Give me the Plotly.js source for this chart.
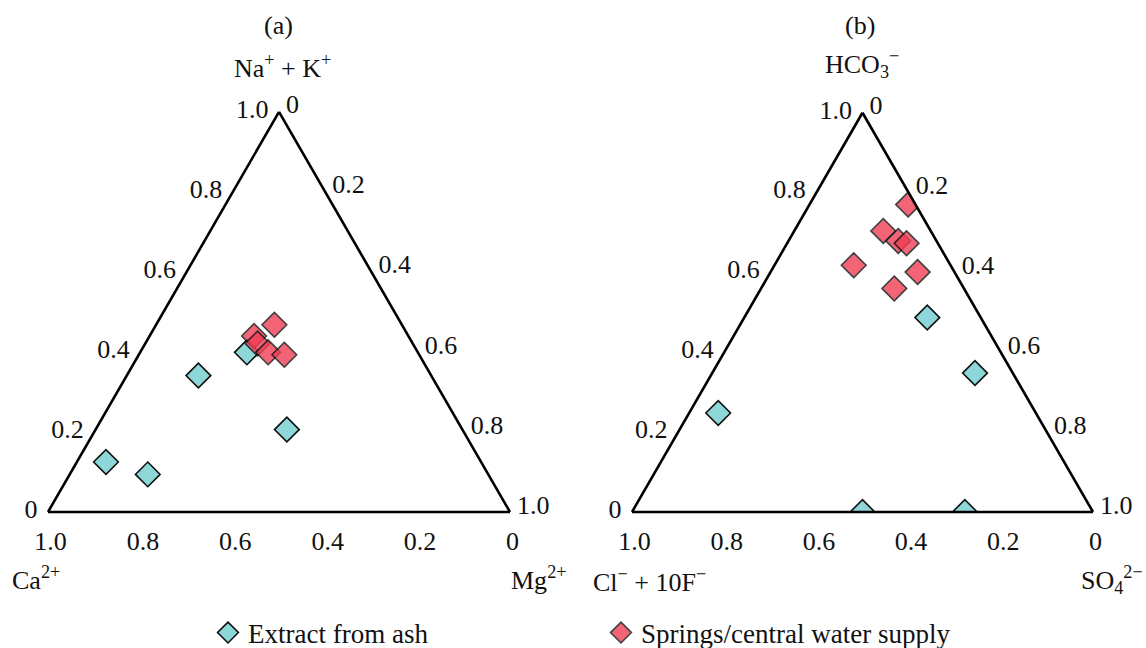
<!DOCTYPE html>
<html><head><meta charset="utf-8">
<script src="https://cdn.plot.ly/plotly-3.0.1.min.js"></script>
<style>html,body{margin:0;padding:0;background:#fff}#chart{width:1146px;height:648px}</style>
</head><body><div id="chart"></div>
<script>
// Panel (a): cations — a = Na+ + K+, b = Ca2+, c = Mg2+
const ashCationNaK = [0.125, 0.094, 0.341, 0.399, 0.206];
const ashCationCa  = [0.812, 0.737, 0.504, 0.370, 0.380];
const ashCationMg  = [0.063, 0.169, 0.155, 0.231, 0.414];
const springCationNaK = [0.468, 0.440, 0.421, 0.399, 0.393];
const springCationCa  = [0.276, 0.334, 0.336, 0.324, 0.292];
const springCationMg  = [0.256, 0.226, 0.243, 0.277, 0.315];
// Panel (b): anions — a = HCO3-, b = Cl- + 10F-, c = SO4 2-
const ashAnionHCO3 = [0.487, 0.348, 0.248, 0.000, 0.000];
const ashAnionClF  = [0.116, 0.082, 0.689, 0.500, 0.278];
const ashAnionSO4  = [0.397, 0.570, 0.063, 0.500, 0.722];
const springAnionHCO3 = [0.770, 0.704, 0.679, 0.673, 0.618, 0.601, 0.560];
const springAnionClF  = [0.016, 0.103, 0.083, 0.068, 0.210, 0.080, 0.151];
const springAnionSO4  = [0.214, 0.193, 0.238, 0.259, 0.172, 0.319, 0.289];
// Tick labels and names
const tickValues = [0, 0.2, 0.4, 0.6, 0.8, 1.0];
const tickLabels = ['0', '0.2', '0.4', '0.6', '0.8', '1.0'];
const seriesNames = ['Extract from ash', 'Springs/central water supply'];
const panelTitles = ['(a)', '(b)'];
const cationNames = ['Na<sup>+</sup> + K<sup>+</sup>', 'Ca<sup>2+</sup>', 'Mg<sup>2+</sup>'];
const anionNames = ['HCO<sub>3</sub><sup>−</sup>', 'Cl<sup>−</sup> + 10F<sup>−</sup>', 'SO<sub>4</sub><sup>2−</sup>'];

const W = 1146, H = 648;
const FONT = 'Liberation Serif, Times New Roman, serif';
const TXT = '#111';
const CYAN = '#8dd7d8', RED = '#f03e55';

function domain(x0, x1, yBottom) {
  const w = x1 - x0, h = w * Math.sqrt(3) / 2;
  return { x: [x0 / W, x1 / W], y: [(H - yBottom) / H, (H - yBottom + h) / H] };
}
function axis(pad) {
  return {
    min: 0, showline: true, linecolor: '#000', linewidth: 2.6, showgrid: false,
    ticks: 'outside', ticklen: pad, tickwidth: 1, tickcolor: 'rgba(0,0,0,0)',
    tickmode: 'array', tickvals: tickValues, ticktext: tickLabels,
    tickfont: { family: FONT, size: 26, color: TXT }, title: { text: '' }
  };
}
function ternary(dom) {
  return { sum: 1, bgcolor: '#fff', domain: dom, aaxis: axis(6), baxis: axis(5), caxis: axis(5) };
}
function marker(color, op) {
  return { symbol: 'diamond', size: 19, color: color, opacity: op, line: { color: '#111', width: 1.6 } };
}
function ann(text, px, py, anchor, size) {
  return { text: text, xref: 'paper', yref: 'paper', x: px / W, y: 1 - py / H,
    xanchor: anchor || 'center', yanchor: 'middle', showarrow: false,
    font: { family: FONT, size: size || 26, color: TXT } };
}

const traces = [
  { type: 'scatterternary', mode: 'markers', subplot: 'ternary', name: seriesNames[0],
    a: ashCationNaK, b: ashCationCa, c: ashCationMg, marker: marker(CYAN, 1), legendgroup: 'ash' },
  { type: 'scatterternary', mode: 'markers', subplot: 'ternary', name: seriesNames[1],
    a: springCationNaK, b: springCationCa, c: springCationMg, marker: marker(RED, 0.8), legendgroup: 'spr' },
  { type: 'scatterternary', mode: 'markers', subplot: 'ternary2', name: seriesNames[0], showlegend: false,
    a: ashAnionHCO3, b: ashAnionClF, c: ashAnionSO4, marker: marker(CYAN, 1), legendgroup: 'ash' },
  { type: 'scatterternary', mode: 'markers', subplot: 'ternary2', name: seriesNames[1], showlegend: false,
    a: springAnionHCO3, b: springAnionClF, c: springAnionSO4, marker: marker(RED, 0.8), legendgroup: 'spr' }
];

const layout = {
  width: W, height: H, margin: { l: 0, r: 0, t: 0, b: 0, autoexpand: false },
  paper_bgcolor: '#fff', plot_bgcolor: '#fff',
  font: { family: FONT, size: 26, color: TXT },
  ternary: ternary(domain(48, 510, 512)),
  ternary2: ternary(domain(632, 1093, 512)),
  showlegend: true,
  legend: { orientation: 'h', x: 208 / W, xanchor: 'left', y: 1 - 633 / H, yanchor: 'middle',
    entrywidth: 348, entrywidthmode: 'pixels', font: { family: FONT, size: 27, color: TXT },
    bgcolor: 'rgba(0,0,0,0)' },
  annotations: [
    ann(panelTitles[0], 278, 26), ann(cationNames[0], 282, 66),
    ann(cationNames[1], 10, 578, 'left'), ann(cationNames[2], 509, 578, 'left'),
    ann(panelTitles[1], 860, 26), ann(anionNames[0], 862, 64),
    ann(anionNames[1], 591, 580, 'left'), ann(anionNames[2], 1145, 580, 'right')
  ]
};

Plotly.newPlot('chart', traces, layout, { staticPlot: true });
</script>
</body></html>
